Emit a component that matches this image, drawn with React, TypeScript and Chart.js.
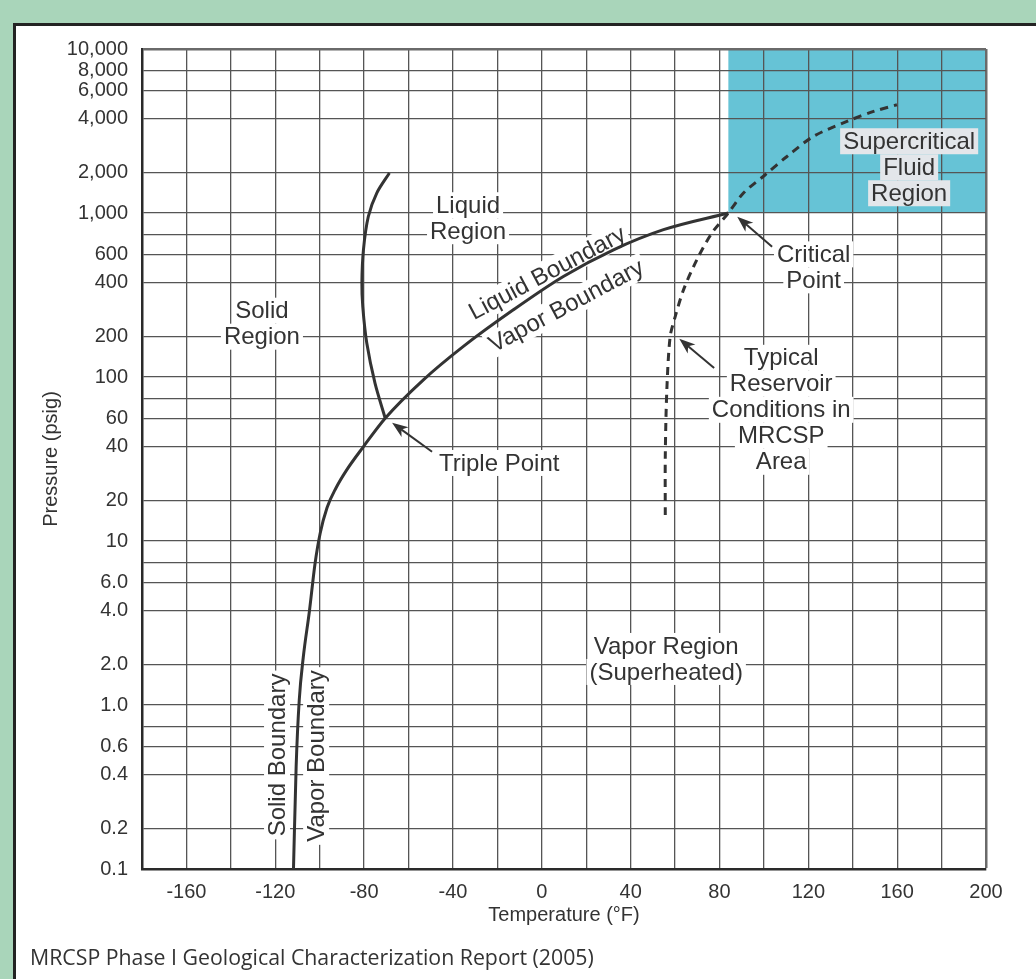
import React, { useEffect, useRef } from 'react';
import { Chart, registerables, LogarithmicScale } from 'chart.js';

// ---------- axis definitions ----------
const T_MIN = -180;
const T_MAX = 200;
const T_STEP = 20;
const P_MIN = 0.1;
const P_MAX = 10000;
const P_TICKS = [0.1, 0.2, 0.4, 0.6, 0.8, 1, 2, 4, 6, 8, 10, 20, 40, 60, 80, 100, 200, 400, 600, 800, 1000, 2000, 4000, 6000, 8000, 10000];
const P_LABELS = ['0.1', '0.2', '0.4', '0.6', '', '1.0', '2.0', '4.0', '6.0', '', '10', '20', '40', '60', '', '100', '200', '400', '600', '', '1,000', '2,000', '4,000', '6,000', '8,000', '10,000'];

// chart-paper spacing inside one decade (mantissa -> fraction of decade)
const PAPER_MANTISSA = [1, 2, 4, 6, 8, 10];
const PAPER_FRACTION = [0, 0.244, 0.575, 0.745, 0.867, 1];

// ---------- curves ----------
// sublimation (solid/vapor) + vaporization (liquid/vapor) boundary, up to critical point
const VAPOR_T = [-111.8, -110.6, -109.2, -107.4, -104.6, -102.1, -99.8, -96.7, -92.6, -88.1, -80.5, -70.5, -53.3, -35.3, -12.8, 9.7, 32.3, 54.8, 84];
const VAPOR_P = [0.1, 0.45, 1.09, 2.2, 4.0, 7.9, 11.4, 17.8, 23.7, 29.4, 39.7, 60.5, 97.2, 170, 283, 438, 645, 843, 1000];
// melting (solid/liquid) boundary
const MELT_T = [-70.5, -75.1, -78.8, -80.6, -81.0, -80.3, -78.1, -74.3, -68.6];
const MELT_P = [60.5, 93.9, 180, 295, 398, 645, 965, 1413, 2000];
// typical reservoir conditions (dashed)
const RES_T = [55.6, 55.6, 56.3, 57.8, 60.1, 63.8, 69.8, 76.6, 84, 90.8, 100.6, 110.4, 122.3, 137.4, 149.4, 159.9];
const RES_P = [15.7, 35.3, 87.7, 201, 260, 365, 558, 815, 1000, 1413, 1940, 2470, 3190, 3864, 4446, 4900];

// supercritical region (critical point to axis max)
const SC_T = [84, 200];
const SC_P = [1000, 10000];

// ---------- annotations ----------
const LABEL_TEXT = [
  'Solid\nRegion',
  'Liquid\nRegion',
  'Liquid Boundary',
  'Vapor Boundary',
  'Triple Point',
  'Critical\nPoint',
  'Typical\nReservoir\nConditions in\nMRCSP\nArea',
  'Supercritical\nFluid\nRegion',
  'Vapor Region\n(Superheated)',
  'Solid Boundary',
  'Vapor Boundary',
];
const LABEL_T = [-126, -33.2, 2.4, 11, -19.2, 122.4, 107.8, 165.4, 56, -119.2, -101.6];
const LABEL_P = [237, 948, 462, 298, 32.5, 500, 68.3, 2152, 2.16, 0.533, 0.525];
const LABEL_ANGLE = [0, 0, -28, -28, 0, 0, 0, 0, 0, -90, -90];
const LABEL_SHADED = [false, false, false, false, false, false, false, true, false, false, false];

const ARROW_FROM_T = [-49.4, 103.7, 77.6];
const ARROW_FROM_P = [37.5, 673, 117];
const ARROW_TO_T = [-67.4, 88.0, 61.9];
const ARROW_TO_P = [56.6, 962, 194];

const FONT = '"Liberation Sans", Arial, Helvetica, sans-serif';
const INK = '#333333';

// ---------- custom chart-paper log scale ----------
function paperUnits(v: number): number {
  const lg = Math.log10(v);
  const d = Math.floor(lg + 1e-9);
  const lm = lg - d;
  for (let i = 0; i < PAPER_MANTISSA.length - 1; i++) {
    const a = Math.log10(PAPER_MANTISSA[i]);
    const b = Math.log10(PAPER_MANTISSA[i + 1]);
    if (lm <= b + 1e-9 || i === PAPER_MANTISSA.length - 2) {
      return d + PAPER_FRACTION[i] + ((lm - a) / (b - a)) * (PAPER_FRACTION[i + 1] - PAPER_FRACTION[i]);
    }
  }
  return d + 1;
}
function paperValue(u: number): number {
  const d = Math.floor(u);
  const f = u - d;
  for (let i = 0; i < PAPER_FRACTION.length - 1; i++) {
    if (f <= PAPER_FRACTION[i + 1] || i === PAPER_FRACTION.length - 2) {
      const a = Math.log10(PAPER_MANTISSA[i]);
      const b = Math.log10(PAPER_MANTISSA[i + 1]);
      const lm = a + ((f - PAPER_FRACTION[i]) / (PAPER_FRACTION[i + 1] - PAPER_FRACTION[i])) * (b - a);
      return Math.pow(10, d + lm);
    }
  }
  return Math.pow(10, d + 1);
}

class PaperLogScale extends LogarithmicScale {
  static id = 'paperlog';
  getPixelForValue(value: any): number {
    if (value === null || value === undefined || isNaN(value) || value <= 0) return NaN;
    const lo = paperUnits((this as any).min);
    const hi = paperUnits((this as any).max);
    return (this as any).getPixelForDecimal((paperUnits(value) - lo) / (hi - lo));
  }
  getValueForPixel(pixel: number): number {
    const lo = paperUnits((this as any).min);
    const hi = paperUnits((this as any).max);
    return paperValue(lo + (this as any).getDecimalForPixel(pixel) * (hi - lo));
  }
}

Chart.register(...registerables, PaperLogScale as any);

function drawLabel(ctx: CanvasRenderingContext2D, text: string, x: number, y: number, angle: number, bg: string) {
  const lines = text.split('\n');
  const lh = 26;
  ctx.save();
  ctx.translate(x, y);
  ctx.rotate((angle * Math.PI) / 180);
  ctx.font = `24px ${FONT}`;
  ctx.textAlign = 'center';
  ctx.textBaseline = 'middle';
  const y0 = -((lines.length - 1) * lh) / 2;
  lines.forEach((line, i) => {
    const w = ctx.measureText(line).width;
    ctx.fillStyle = bg;
    ctx.fillRect(-w / 2 - 3, y0 + i * lh - lh / 2, w + 6, lh);
  });
  ctx.fillStyle = INK;
  lines.forEach((line, i) => {
    ctx.fillText(line, 0, y0 + i * lh + 1);
  });
  ctx.restore();
}

function drawArrow(ctx: CanvasRenderingContext2D, x1: number, y1: number, x2: number, y2: number) {
  const ang = Math.atan2(y2 - y1, x2 - x1);
  const head = 16;
  const half = 6;
  ctx.save();
  ctx.strokeStyle = INK;
  ctx.fillStyle = INK;
  ctx.lineWidth = 2;
  ctx.beginPath();
  ctx.moveTo(x1, y1);
  ctx.lineTo(x2 - Math.cos(ang) * head * 0.7, y2 - Math.sin(ang) * head * 0.7);
  ctx.stroke();
  ctx.translate(x2, y2);
  ctx.rotate(ang);
  ctx.beginPath();
  ctx.moveTo(0, 0);
  ctx.lineTo(-head, -half);
  ctx.lineTo(-head * 0.72, 0);
  ctx.lineTo(-head, half);
  ctx.closePath();
  ctx.fill();
  ctx.restore();
}

const regionPlugin = {
  id: 'supercriticalRegion',
  beforeDraw(chart: any) {
    const { ctx, scales } = chart;
    const x1 = scales.x.getPixelForValue(SC_T[0]);
    const x2 = scales.x.getPixelForValue(SC_T[1]);
    const y1 = scales.y.getPixelForValue(SC_P[1]);
    const y2 = scales.y.getPixelForValue(SC_P[0]);
    ctx.save();
    ctx.fillStyle = '#66c3d6';
    ctx.fillRect(x1, y1, x2 - x1, y2 - y1);
    ctx.restore();
  },
};

const annotationPlugin = {
  id: 'phaseAnnotations',
  beforeDatasetsDraw(chart: any) {
    const { ctx, scales } = chart;
    for (let i = 0; i < LABEL_TEXT.length; i++) {
      drawLabel(
        ctx,
        LABEL_TEXT[i],
        scales.x.getPixelForValue(LABEL_T[i]),
        scales.y.getPixelForValue(LABEL_P[i]),
        LABEL_ANGLE[i],
        LABEL_SHADED[i] ? '#e3e6ea' : '#ffffff'
      );
    }
  },
  afterDatasetsDraw(chart: any) {
    const { ctx, scales } = chart;
    for (let i = 0; i < ARROW_FROM_T.length; i++) {
      drawArrow(
        ctx,
        scales.x.getPixelForValue(ARROW_FROM_T[i]),
        scales.y.getPixelForValue(ARROW_FROM_P[i]),
        scales.x.getPixelForValue(ARROW_TO_T[i]),
        scales.y.getPixelForValue(ARROW_TO_P[i])
      );
    }
  },
};

const pts = (xs: number[], ys: number[]) => xs.map((x, i) => ({ x, y: ys[i] }));

export default function App() {
  const canvasRef = useRef<HTMLCanvasElement>(null);

  useEffect(() => {
    const canvas = canvasRef.current;
    if (!canvas) return;
    Chart.defaults.font.family = FONT;
    Chart.defaults.color = INK;
    const gridColor = '#555555';
    const chart = new Chart(canvas, {
      type: 'scatter',
      data: {
        datasets: [
          {
            label: 'Solid / Liquid Boundary – Vapor Boundary',
            data: pts(VAPOR_T, VAPOR_P),
            showLine: true,
            borderColor: INK,
            borderWidth: 3,
            pointRadius: 0,
            cubicInterpolationMode: 'monotone',
            fill: false,
          },
          {
            label: 'Solid / Liquid Boundary',
            data: pts(MELT_T, MELT_P),
            showLine: true,
            borderColor: INK,
            borderWidth: 3,
            pointRadius: 0,
            tension: 0.3,
            fill: false,
          },
          {
            label: 'Typical Reservoir Conditions in MRCSP Area',
            data: pts(RES_T, RES_P),
            showLine: true,
            borderColor: INK,
            borderWidth: 3,
            borderDash: [8, 6],
            pointRadius: 0,
            tension: 0.3,
            fill: false,
          },
        ],
      } as any,
      options: {
        responsive: false,
        animation: false,
        devicePixelRatio: 1,
        events: [],
        layout: { padding: { left: 0, top: 49, right: 50, bottom: 50 } },
        plugins: {
          legend: { display: false },
          tooltip: { enabled: false },
        },
        scales: {
          x: {
            type: 'linear',
            min: T_MIN,
            max: T_MAX,
            afterFit: (s: any) => {
              s.height = 60;
            },
            ticks: {
              stepSize: T_STEP,
              autoSkip: false,
              maxRotation: 0,
              minRotation: 0,
              padding: 11,
              color: INK,
              font: { size: 20, family: FONT },
              callback: (v: any) => (Number(v) % 40 === 0 ? String(v) : ''),
            },
            grid: {
              drawTicks: false,
              color: (c: any) => (c.tick && c.tick.value === T_MAX ? '#6a6a6a' : gridColor),
              lineWidth: (c: any) => (c.tick && c.tick.value === T_MAX ? 2.5 : 1.3),
            },
            border: { display: true, color: '#2a2a2a', width: 2.5 },
            title: {
              display: true,
              text: 'Temperature (°F)',
              color: INK,
              font: { size: 20, family: FONT },
              padding: { top: 0, bottom: 2 },
            },
          },
          y: {
            type: 'paperlog' as any,
            min: P_MIN,
            max: P_MAX,
            afterFit: (s: any) => {
              s.width = 142;
            },
            afterBuildTicks: (s: any) => {
              s.ticks = P_TICKS.map((v) => ({ value: v }));
            },
            ticks: {
              autoSkip: false,
              padding: 14,
              color: INK,
              font: { size: 20, family: FONT },
              callback: (_v: any, i: number) => P_LABELS[i],
            },
            grid: {
              drawTicks: false,
              color: (c: any) => (c.tick && c.tick.value === P_MAX ? '#6a6a6a' : gridColor),
              lineWidth: (c: any) => (c.tick && c.tick.value === P_MAX ? 2.5 : 1.3),
            },
            border: { display: true, color: '#2a2a2a', width: 2.5 },
            title: {
              display: true,
              text: 'Pressure (psig)',
              color: INK,
              font: { size: 20, family: FONT },
              padding: { top: 39, bottom: 0 },
            },
          } as any,
        },
      } as any,
      plugins: [regionPlugin, annotationPlugin],
    });
    return () => chart.destroy();
  }, []);

  return (
    <div
      style={{
        position: 'absolute',
        left: 0,
        top: 0,
        width: 1036,
        height: 979,
        overflow: 'hidden',
        background: '#a9d5ba',
      }}
    >
      <div
        style={{
          position: 'absolute',
          left: 13,
          top: 23,
          width: 1040,
          height: 980,
          background: '#ffffff',
          borderLeft: '3px solid #232323',
          borderTop: '3px solid #232323',
        }}
      />
      <canvas
        ref={canvasRef}
        width={1036}
        height={979}
        style={{ position: 'absolute', left: 0, top: 0, width: 1036, height: 979 }}
      />
      <div
        style={{
          position: 'absolute',
          left: 30,
          top: 942,
          font: '21.3px "Open Sans", sans-serif',
          color: INK,
          whiteSpace: 'nowrap',
        }}
      >
        MRCSP Phase I Geological Characterization Report (2005)
      </div>
    </div>
  );
}
